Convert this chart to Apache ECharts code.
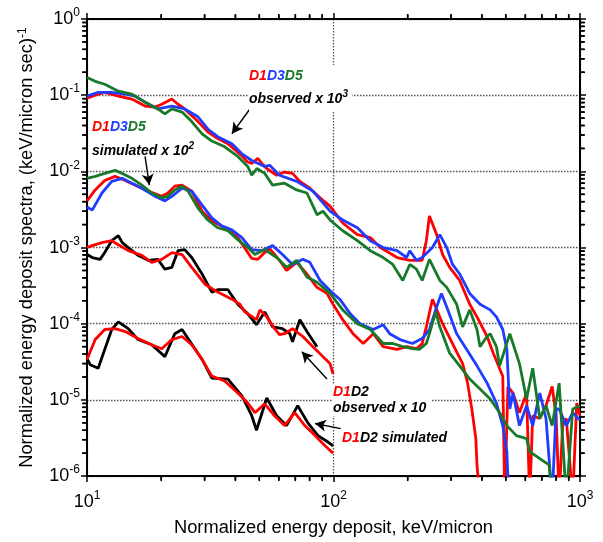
<!DOCTYPE html>
<html>
<head>
<meta charset="utf-8">
<script src="https://cdn.jsdelivr.net/npm/echarts@6/dist/echarts.min.js"></script>
<style>html,body{margin:0;padding:0;background:#fff}#c{width:603px;height:542px}</style>
</head>
<body>
<div id="c"></div>
<script>
// ---- data: [energy deposit (keV/micron), spectrum value] ----
const obsD1 = [[10,9.1e-2],[10.8,1.0e-1],[11.8,1.09e-1],[13.4,9.7e-2],[15.2,8.9e-2],[17.2,7.2e-2],[18.9,7.0e-2],[20.1,7.6e-2],[22.1,8.9e-2],[23.4,7.6e-2],[24.9,6.6e-2],[28.2,4.5e-2],[30.9,3.3e-2],[33.9,2.7e-2],[37.3,2.3e-2],[42.5,1.6e-2],[44.5,1.35e-2],[46.6,1.27e-2],[49.3,1.48e-2],[51.2,1.27e-2],[53.6,1.09e-2],[58.8,8.9e-3],[63.3,9.8e-3],[68.2,9.4e-3],[73.0,7.4e-3],[80.2,6.0e-3],[88.2,4.5e-3],[96.8,3.5e-3],[109,2.1e-3],[125,1.48e-3],[141,1.35e-3],[155,1.0e-3],[181,7.4e-4],[204,6.8e-4],[229,6.8e-4],[238,1.23e-3],[245,2.6e-3],[262,1.48e-3],[277,8.1e-4],[296,5.5e-4],[325,3.7e-4],[357,1.8e-4],[382,1.23e-4],[420,6.8e-5],[445,4.1e-5],[486,2.05e-5],[495,5e-7],[510,1.5e-5],[535,1.23e-5],[568,6.8e-6],[607,1.23e-5],[625,5e-7],[643,6.2e-6],[687,5.7e-6],[728,8.4e-6],[771,1.5e-5],[800,6.2e-6],[823,5e-7],[850,4.6e-6],[880,5.7e-6],[934,5e-7],[970,9.1e-6],[1000,6.2e-6]];
const obsD3 = [[10,9.7e-2],[11.1,1.09e-1],[12.6,1.09e-1],[14.3,1.03e-1],[15.7,9.7e-2],[17.2,8.1e-2],[19.4,6.6e-2],[22.1,7.2e-2],[24.9,6.6e-2],[28.2,5.2e-2],[30.9,3.6e-2],[33.9,2.85e-2],[38.7,2.3e-2],[42.5,1.7e-2],[46.6,1.39e-2],[52.6,1.16e-2],[55.1,1.2e-2],[60.4,8.9e-3],[70.9,7.4e-3],[82.5,5.5e-3],[96.8,3.0e-3],[109,2.3e-3],[125,1.82e-3],[141,1.23e-3],[159,1.0e-3],[181,9.1e-4],[198,7.4e-4],[204,9.1e-4],[217,6.8e-4],[229,7.4e-4],[252,1.0e-3],[270,1.48e-3],[288,1.0e-3],[304,6.0e-4],[325,4.5e-4],[357,2.5e-4],[393,1.8e-4],[432,1.52e-4],[458,1.23e-4],[486,8.4e-5],[505,4.6e-5],[519,7.6e-6],[535,1.23e-5],[568,4.6e-6],[607,8.4e-6],[643,4.6e-6],[687,1.23e-5],[728,5.7e-6],[771,5e-7],[800,7.6e-6],[823,7.6e-6],[880,4.6e-6],[934,6.8e-6],[1000,5.4e-6]];
const obsD5 = [[10,1.71e-1],[10.8,1.52e-1],[11.8,1.39e-1],[13.4,1.13e-1],[15.2,1.03e-1],[17.2,8.1e-2],[19.4,6.6e-2],[20.7,5.7e-2],[22.1,6.6e-2],[24.3,6.0e-2],[26.6,4.5e-2],[29.3,3.1e-2],[32.1,2.5e-2],[36.2,2.1e-2],[40.9,1.57e-2],[44.9,1.16e-2],[46.6,8.9e-3],[48.9,1.09e-2],[52.6,9.4e-3],[56.6,6.6e-3],[63.3,7.0e-3],[70.9,5.7e-3],[78.0,5.2e-3],[85.7,2.7e-3],[90.6,3.0e-3],[96.8,2.3e-3],[109,1.66e-3],[125,1.23e-3],[141,9.1e-4],[159,7.4e-4],[174,6.0e-4],[191,3.7e-4],[204,6.0e-4],[217,5.2e-4],[229,3.7e-4],[245,7.0e-4],[270,3.7e-4],[288,3.0e-4],[316,1.8e-4],[334,9.1e-5],[357,1.52e-4],[382,8.4e-5],[393,5.0e-5],[420,6.8e-5],[432,7.4e-5],[458,5.0e-5],[472,2.8e-5],[519,7.4e-5],[568,3.0e-5],[607,1.03e-5],[643,2.6e-5],[687,5.7e-6],[728,8.4e-6],[771,4.6e-6],[823,1.66e-5],[880,5e-7],[934,7.6e-6],[1000,8.4e-6]];

const simD1 = [[10,4.1e-3],[10.8,5.7e-3],[11.8,7.6e-3],[13.0,8.6e-3],[14.3,7.6e-3],[15.7,6.6e-3],[17.7,5.5e-3],[20.1,4.7e-3],[21.3,5.2e-3],[22.7,6.4e-3],[24.3,6.6e-3],[26.6,5.5e-3],[29.3,3.0e-3],[32.1,2.24e-3],[36.2,1.82e-3],[40.9,1.35e-3],[46.6,7.2e-4],[49.3,7.0e-4],[52.6,8.6e-4],[55.1,9.7e-4],[60.4,6.8e-4],[64.5,5.0e-4],[70.9,6.4e-4],[78.0,4.5e-4],[85.7,3.0e-4],[94.1,2.5e-4],[99.6,1.8e-4],[109,1.13e-4],[120,7.4e-5],[132,5.5e-5],[145,7.4e-5],[159,5.0e-5],[181,4.6e-5],[198,5.0e-5],[217,4.7e-5],[229,5.5e-5],[238,9.1e-5],[252,2.1e-4],[277,1.0e-4],[304,5.5e-5],[334,3.0e-5],[350,1.66e-5],[364,7.6e-6],[378,3.1e-6],[382,1.4e-6],[393,5e-7]];
const simD3 = [[10,3.4e-3],[10.5,3.1e-3],[11.5,5.2e-3],[12.6,7.4e-3],[13.9,8.1e-3],[15.2,7.0e-3],[16.7,6.0e-3],[18.9,4.7e-3],[20.7,4.1e-3],[22.1,4.7e-3],[24.3,6.0e-3],[26.6,5.5e-3],[29.3,3.6e-3],[32.1,2.45e-3],[35.2,1.93e-3],[38.7,1.71e-3],[42.5,1.35e-3],[46.6,9.4e-4],[51.2,9.1e-4],[56.6,1.06e-3],[62.1,8.1e-4],[68.2,6.0e-4],[75.1,7.0e-4],[80.2,6.4e-4],[88.2,3.7e-4],[99.6,2.5e-4],[106,2.1e-4],[117,1.35e-4],[128,1.0e-4],[145,8.4e-5],[159,9.7e-5],[169,7.4e-5],[186,6.2e-5],[209,5.5e-5],[229,6.4e-5],[245,8.4e-5],[262,1.66e-4],[274,2.5e-4],[288,1.66e-4],[316,7.4e-5],[347,4.6e-5],[382,2.8e-5],[420,1.66e-5],[458,9.1e-6],[486,4.6e-6],[505,2.1e-6],[514,5e-7]];
const simD5 = [[10,8.1e-3],[10.8,8.6e-3],[11.8,9.4e-3],[13.0,1.03e-2],[13.9,9.4e-3],[15.2,8.1e-3],[16.7,6.6e-3],[18.3,5.2e-3],[20.1,4.5e-3],[21.3,4.7e-3],[22.7,5.7e-3],[24.3,6.4e-3],[25.7,5.5e-3],[28.2,3.3e-3],[30.9,2.3e-3],[33.9,1.82e-3],[37.3,1.66e-3],[40.9,1.27e-3],[44.9,1.0e-3],[48.0,8.1e-4],[52.6,9.4e-4],[58.8,7.4e-4],[64.5,5.5e-4],[70.9,6.8e-4],[78.0,4.1e-4],[85.7,3.5e-4],[96.8,2.5e-4],[109,1.52e-4],[125,1.0e-4],[141,8.4e-5],[159,5.5e-5],[174,5.5e-5],[191,5.0e-5],[209,4.7e-5],[223,4.6e-5],[238,5.5e-5],[245,7.4e-5],[260,1.43e-4],[270,9.1e-5],[296,4.1e-5],[325,2.8e-5],[357,1.88e-5],[393,1.39e-5],[432,1.03e-5],[472,6.8e-6],[505,4.6e-6],[552,3.4e-6],[607,3.1e-6],[625,2.1e-6],[687,1.7e-6],[749,1.4e-6],[771,5e-7]];

const obsD1D2_D1 = [[10,1.0e-3],[10.5,1.06e-3],[11.5,1.16e-3],[12.6,1.23e-3],[13.4,1.09e-3],[14.7,9.1e-4],[16.7,7.9e-4],[18.3,6.4e-4],[20.1,7.0e-4],[22.1,8.6e-4],[24.3,8.1e-4],[26.6,5.5e-4],[30.1,3.3e-4],[33.9,2.6e-4],[38.7,2.1e-4],[41.7,1.8e-4],[43.7,1.43e-4],[48.7,1.13e-4],[50.3,1.52e-4],[53.6,1.23e-4],[57.7,8.6e-5],[60.4,7.2e-5],[63.3,7.4e-5],[68.2,8.6e-5],[75.1,6.8e-5],[82.5,5.0e-5],[90.6,3.7e-5],[96.8,3.0e-5],[99.6,2.2e-5]];
const obsD1D2_D2 = [[10,8.1e-4],[10.5,7.4e-4],[11.3,7.0e-4],[11.8,8.6e-4],[12.6,1.23e-3],[13.4,1.43e-3],[13.9,1.16e-3],[14.7,1.0e-3],[16.1,7.9e-4],[17.7,6.8e-4],[19.4,7.0e-4],[20.7,5.2e-4],[22.1,5.5e-4],[23.4,9.1e-4],[24.9,9.4e-4],[26.6,7.4e-4],[29.3,4.5e-4],[32.1,2.6e-4],[33.9,2.8e-4],[37.3,2.8e-4],[40.9,1.8e-4],[44.9,1.35e-4],[48.7,9.7e-5],[52.6,1.43e-4],[56.6,9.1e-5],[62.1,8.6e-5],[66.5,7.4e-5],[68.2,5.8e-5],[73.0,1.13e-4],[78.0,7.9e-5],[85.7,5.0e-5]];
const simD1D2_D1 = [[10,3.4e-5],[10.8,6.2e-5],[11.8,8.4e-5],[13.0,8.6e-5],[14.3,7.9e-5],[16.1,6.4e-5],[18.3,5.3e-5],[20.1,4.7e-5],[22.1,6.2e-5],[24.3,6.8e-5],[26.6,5.3e-5],[29.3,3.4e-5],[32.1,2.05e-5],[36.2,1.77e-5],[40.9,1.23e-5],[44.9,9.1e-6],[48.0,6.8e-6],[52.6,8.9e-6],[57.7,6.2e-6],[63.3,4.6e-6],[69.6,6.8e-6],[76.5,4.6e-6],[84.1,3.4e-6],[92.4,2.5e-6],[99.6,2.0e-6]];
const simD1D2_D2 = [[10,3.5e-5],[10.3,2.9e-5],[11.1,2.6e-5],[11.8,4.6e-5],[12.6,8.4e-5],[13.4,1.06e-4],[14.7,8.6e-5],[16.1,6.2e-5],[18.3,5.3e-5],[20.7,3.7e-5],[22.7,7.4e-5],[24.3,8.4e-5],[25.7,6.4e-5],[29.3,3.4e-5],[32.1,1.93e-5],[37.3,1.88e-5],[42.5,1.13e-5],[46.6,6.2e-6],[48.7,4.0e-6],[53.6,1.06e-5],[58.8,6.2e-6],[64.5,4.6e-6],[71.6,8.4e-6],[78.7,5.0e-6],[86.5,3.4e-6],[95.0,2.8e-6],[99.6,2.5e-6]];

// annotation arrows [from, to]
const arrowObs = [[45.8,6.58e-2],[38.7,3.12e-2]];
const arrowSim = [[17.2,1.57e-2],[17.9,6.6e-3]];
const arrowD1D2obs = [[94.1,1.88e-5],[74.4,4.3e-5]];
const arrowD1D2sim = [[107,4.2e-6],[84.1,4.9e-6]];

// axis ticks
const xDecades = [10, 100];
const yDecades = [1e-6, 1e-5, 1e-4, 1e-3, 1e-2, 1e-1];
const minorMult = [2, 3, 4, 5, 6, 7, 8, 9];
const X_MIN = 10, X_MAX = 1000, Y_MIN = 1e-6, Y_MAX = 1;

const RED = '#ff0000', BLUE = '#1f3cff', GREEN = '#17792a', BLACK = '#000000';
const FONT = '"Liberation Sans", Arial, sans-serif';

const chart = echarts.init(document.getElementById('c'));

function lineSeries(name, data, color, extra) {
  return Object.assign({
    name: name, type: 'line', data: data, showSymbol: false, symbol: 'none',
    lineStyle: {color: color, width: 2.8}, itemStyle: {color: color},
    clip: true, silent: true, animation: false
  }, extra || {});
}
function arrow(a) {
  return {
    silent: true, animation: false, symbol: ['none', 'arrow'], symbolSize: [9, 11],
    lineStyle: {color: '#000', width: 1.4, type: 'solid'}, label: {show: false},
    data: [[{coord: a[0]}, {coord: a[1]}]]
  };
}

// minor tick positions (values), drawn as small rect symbols through the scales
const xMinor = [], yMinor = [];
xDecades.forEach(d => minorMult.forEach(m => xMinor.push(d * m)));
yDecades.forEach(d => minorMult.forEach(m => yMinor.push(d * m)));
function tickSeries(data, size, offset) {
  return {type: 'scatter', data: data, symbol: 'rect', symbolSize: size, symbolOffset: offset,
    itemStyle: {color: '#000', opacity: 1}, clip: false, silent: true, z: 20};
}
// backup: same minor ticks via a custom series
function minorTickItem(params, api) {
  const cs = params.coordSys;
  const L = cs.x, T = cs.y, R = cs.x + cs.width, B = cs.y + cs.height;
  const ch = [];
  const seg = (x1, y1, x2, y2) => ({type: 'line', shape: {x1: x1, y1: y1, x2: x2, y2: y2},
    style: {stroke: '#000', lineWidth: 1.5}});
  xMinor.forEach(v => {
    const px = api.coord([v, Y_MIN])[0];
    ch.push(seg(px, B, px, B + 4));
    ch.push(seg(px, T, px, T - 4));
  });
  yMinor.forEach(v => {
    const py = api.coord([X_MIN, v])[1];
    ch.push(seg(L - 4, py, L, py));
    ch.push(seg(R, py, R + 4, py));
  });
  return {type: 'group', children: ch};
}

const tickRich = {
  b: {fontSize: 18, fontFamily: FONT, color: '#000', lineHeight: 18},
  s: {fontSize: 12, fontFamily: FONT, color: '#000', lineHeight: 12, padding: [0, 0, 12, 0]}
};
const supFmt = v => '{b|10}{s|' + Math.round(Math.log10(v)) + '}';

const gridLine = {show: true, lineStyle: {color: '#555', width: 1.3, type: [1.5, 1.5]}};

function textLabels() {
  const base = {fontSize: 14, fontWeight: 'bold', fontStyle: 'italic', fontFamily: FONT};
  const tok = (c, lh) => Object.assign({}, base, {fill: c, color: c, lineHeight: lh});
  const sup = () => Object.assign({}, base, {fontSize: 10, fill: '#000', color: '#000', lineHeight: 10, padding: [0, 0, 10, 0]});
  return [
    {type: 'text', left: 249, top: 65, z: 100, silent: true,
     style: {text: '{r|D1}{b|D3}{g|D5}\n{k|observed x 10}{s|3}', backgroundColor: '#fff', padding: [0, 4, 0, 0],
       rich: {r: tok(RED, 23), b: tok(BLUE, 23), g: tok(GREEN, 23), k: tok('#000', 23), s: sup()}}},
    {type: 'text', left: 92, top: 120, z: 100, silent: true,
     style: {text: '{r|D1}{b|D3}{g|D5}\n{k|simulated x 10}{s|2}',
       rich: {r: tok(RED, 24), b: tok(BLUE, 24), g: tok(GREEN, 24), k: tok('#000', 24), s: sup()}}},
    {type: 'text', left: 332, top: 384, z: 100, silent: true,
     style: {text: '{r|D1}{k|D2}\n{k|observed x 10}', backgroundColor: '#fff', padding: [0, 5, 0, 1],
       rich: {r: tok(RED, 16), k: tok('#000', 16)}}},
    {type: 'text', left: 342, top: 431, z: 100, silent: true,
     style: {text: '{r|D1}{k|D2 simulated}', rich: {r: tok(RED, 16), k: tok('#000', 16)}}}
  ];
}

const option = {
  backgroundColor: '#fff',
  grid: {left: 87, right: 23, top: 19, bottom: 61, containLabel: false},
  xAxis: [{
    type: 'log', logBase: 10, min: X_MIN, max: X_MAX, splitNumber: 2,
    axisLine: {show: true, lineStyle: {color: '#000', width: 2}},
    axisTick: {show: true, inside: false, length: 6, lineStyle: {color: '#000', width: 1.5}},
    axisLabel: {formatter: supFmt, rich: tickRich, margin: 17},
    splitLine: gridLine,
    name: 'Normalized energy deposit, keV/micron', nameLocation: 'middle', nameGap: 38,
    nameTextStyle: {fontSize: 18.3, fontFamily: FONT, color: '#000'}
  }, {
    type: 'log', logBase: 10, min: X_MIN, max: X_MAX, splitNumber: 2, position: 'top',
    axisLine: {show: true, lineStyle: {color: '#000', width: 2}},
    axisTick: {show: true, inside: false, length: 6, lineStyle: {color: '#000', width: 1.5}},
    axisLabel: {show: false}, splitLine: {show: false}
  }],
  yAxis: [{
    type: 'log', logBase: 10, min: Y_MIN, max: Y_MAX, splitNumber: 6,
    axisLine: {show: true, lineStyle: {color: '#000', width: 2}},
    axisTick: {show: true, inside: false, length: 6, lineStyle: {color: '#000', width: 1.5}},
    axisLabel: {formatter: supFmt, rich: tickRich, margin: 7},
    splitLine: gridLine,
    name: '{t|Normalized energy deposit spectra, (keV/micron sec)}{s|-1}',
    nameLocation: 'middle', nameRotate: 90, nameGap: 48,
    nameTextStyle: {
      rich: {
        t: {fontSize: 18.3, fontFamily: FONT, color: '#000', lineHeight: 18},
        s: {fontSize: 12, fontFamily: FONT, color: '#000', lineHeight: 12, padding: [0, 0, 10, 0]}
      }
    }
  }, {
    type: 'log', logBase: 10, min: Y_MIN, max: Y_MAX, splitNumber: 6, position: 'right',
    axisLine: {show: true, lineStyle: {color: '#000', width: 2}},
    axisTick: {show: true, inside: false, length: 6, lineStyle: {color: '#000', width: 1.5}},
    axisLabel: {show: false}, splitLine: {show: false}
  }],
  series: [
    lineSeries('observed D1', obsD1, RED),
    lineSeries('observed D3', obsD3, BLUE),
    lineSeries('observed D5', obsD5, GREEN, {markLine: arrow(arrowObs)}),
    lineSeries('simulated D1', simD1, RED),
    lineSeries('simulated D3', simD3, BLUE),
    lineSeries('simulated D5', simD5, GREEN, {markLine: arrow(arrowSim)}),
    lineSeries('D1D2 observed D2', obsD1D2_D2, BLACK),
    lineSeries('D1D2 observed D1', obsD1D2_D1, RED, {markLine: arrow(arrowD1D2obs)}),
    lineSeries('D1D2 simulated D2', simD1D2_D2, BLACK),
    lineSeries('D1D2 simulated D1', simD1D2_D1, RED, {markLine: arrow(arrowD1D2sim)}),
    tickSeries(xMinor.map(v => [v, Y_MIN]), [1.6, 5], [0, 2.5]),
    tickSeries(xMinor.map(v => [v, Y_MAX]), [1.6, 5], [0, -2.5]),
    tickSeries(yMinor.map(v => [X_MIN, v]), [5, 1.6], [-2.5, 0]),
    tickSeries(yMinor.map(v => [X_MAX, v]), [5, 1.6], [2.5, 0]),
    {type: 'custom', data: [[X_MIN, Y_MIN]], clip: false, renderItem: minorTickItem}
  ],
  graphic: textLabels()
};
chart.setOption(option);
</script>
</body>
</html>
